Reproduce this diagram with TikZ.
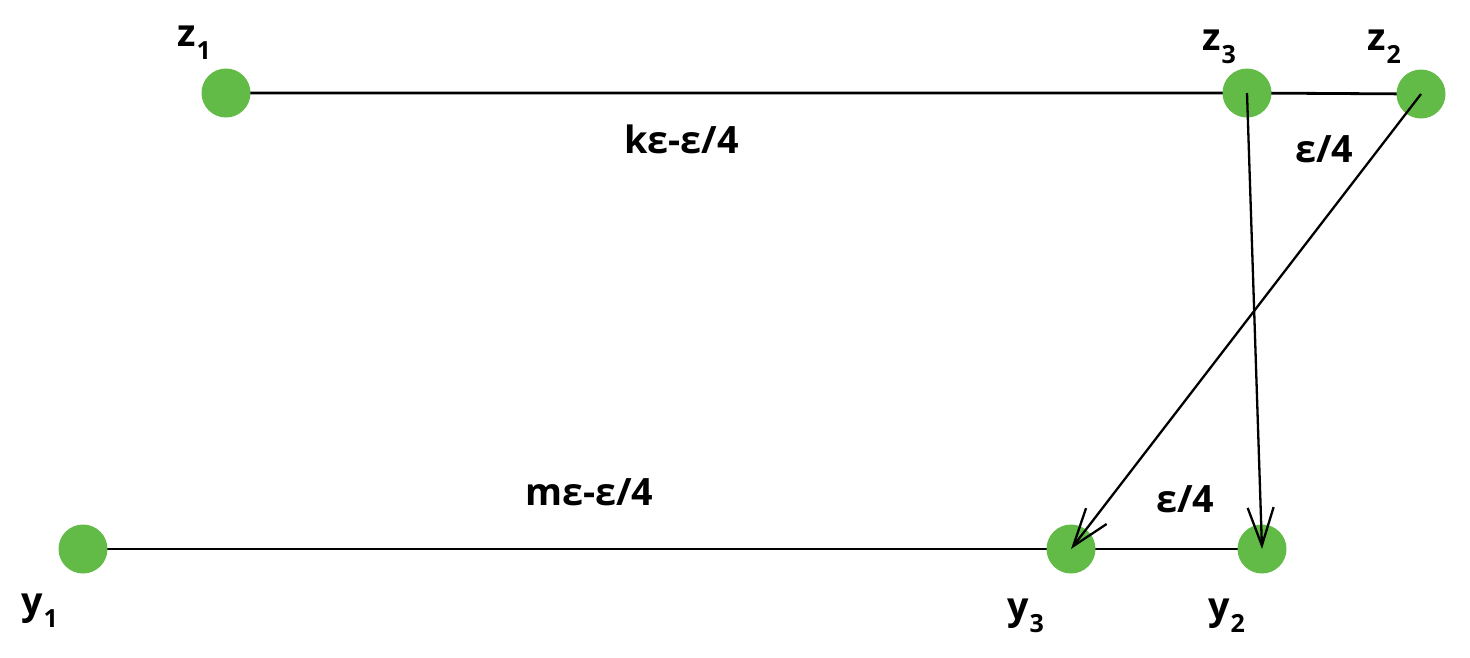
\documentclass[tikz,border=0pt]{standalone}
\usepackage{fontspec}
\setmainfont{Open Sans}
\usetikzlibrary{arrows.meta}
\definecolor{nodegreen}{RGB}{98,187,71}
\newcommand\sublbl[2]{#1\kern1pt\raisebox{-13pt}{\fontsize{25}{25}\selectfont #2}}
\begin{document}
\begin{tikzpicture}[x=1pt,y=-1pt,
  dot/.style={circle,fill=nodegreen,draw=none,minimum size=49pt,inner sep=0pt},
  edge/.style={line width=2.8pt,black},
  arr/.style={line width=2.3pt,black,-{Straight Barb[length=38pt,width=26pt,line width=2.3pt]}},
  txt/.style={inner sep=0pt,anchor=base west,font=\fontsize{37.7}{40}\selectfont\bfseries}]
\useasboundingbox (0,0) rectangle (1470,657);
\coordinate (pz1) at (226,93);
\coordinate (pz3) at (1247,93);
\coordinate (pz2) at (1421,94);
\coordinate (py1) at (83,549);
\coordinate (py3) at (1071,549);
\coordinate (py2) at (1262,549);
\draw[edge] (pz1) -- (pz3) -- (pz2);
\draw[edge] (py1) -- (py3) -- (py2);
\node[dot] (z1) at (pz1) {};
\node[dot] (z3) at (pz3) {};
\node[dot] (z2) at (pz2) {};
\node[dot] (y1) at (py1) {};
\node[dot] (y3) at (py3) {};
\node[dot] (y2) at (py2) {};
\draw[arr] (z3.center) -- (y2.center);
\draw[arr] (z2.center) -- (y3.center);
\node[txt] (lz1) at (177,46) {\sublbl{z}{1}};
\node[txt] (lz3) at (1202,50) {\sublbl{z}{3}};
\node[txt] (lz2) at (1367,50) {\sublbl{z}{2}};
\node[txt] (ly1) at (21,614) {\sublbl{y}{1}};
\node[txt] (ly3) at (1007,619) {\sublbl{y}{3}};
\node[txt] (ly2) at (1208,619) {\sublbl{y}{2}};
\node[txt] (lk) at (624,153) {kε-ε/4};
\node[txt] (lm) at (525,505) {mε-ε/4};
\node[txt] (le1) at (1295,162) {ε/4};
\node[txt] (le2) at (1156,512) {ε/4};
\end{tikzpicture}
\end{document}
